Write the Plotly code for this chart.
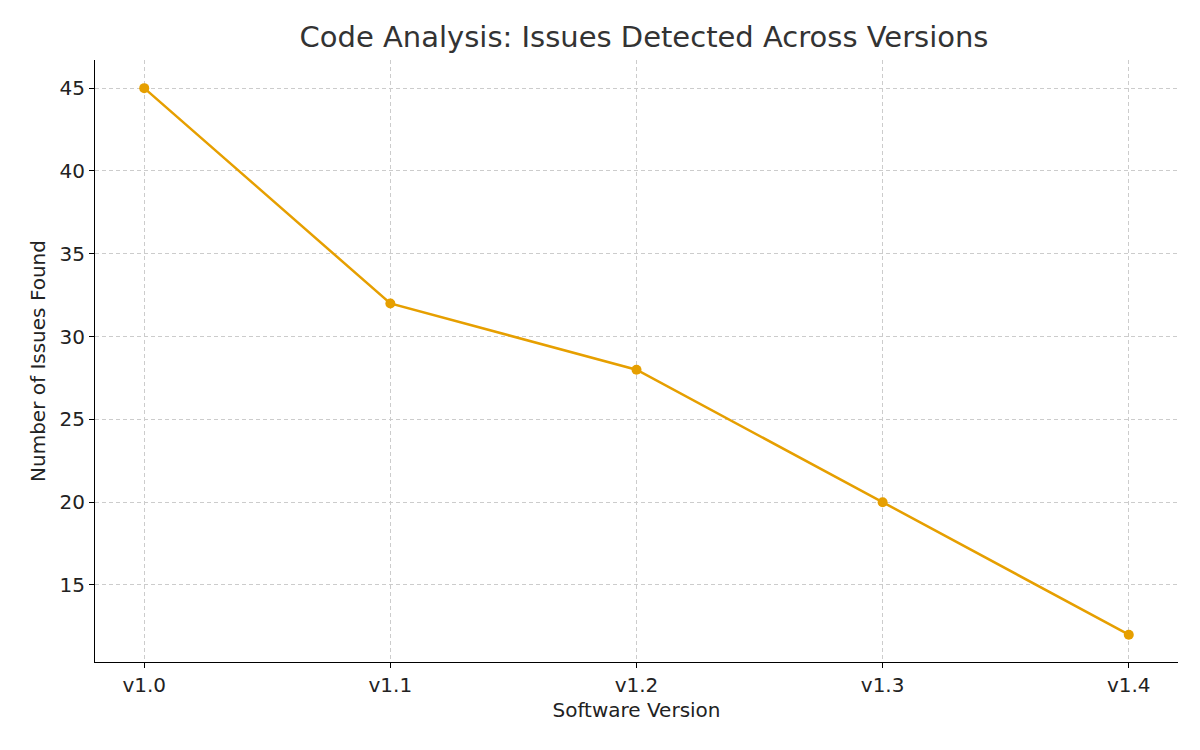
import plotly.graph_objects as go

versions = ["v1.0", "v1.1", "v1.2", "v1.3", "v1.4"]
issues = [45, 32, 28, 20, 12]

fig = go.Figure(go.Scatter(
    x=versions, y=issues, mode="lines+markers",
    line=dict(color="#E69F00", width=2.5),
    marker=dict(color="#E69F00", size=10),
))
fig.update_layout(
    width=1200, height=750,
    paper_bgcolor="white", plot_bgcolor="white",
    font=dict(family="DejaVu Sans", size=20, color="#222"),
    title=dict(text="Code Analysis: Issues Detected Across Versions", x=0.53, xanchor="center",
               y=0.975, yanchor="top", font=dict(size=29, color="#333")),
    margin=dict(l=87, r=30, t=52, b=96),
    showlegend=False,
)
fig.update_xaxes(title=dict(text="Software Version", font=dict(size=20), standoff=6),
                 tickfont=dict(size=20),
                 range=[-0.2, 4.2], showline=True, linecolor="black", linewidth=1.2,
                 ticks="outside", ticklen=5, tickcolor="black",
                 showgrid=True, gridcolor="#cccccc", griddash="4px,3px", gridwidth=1)
fig.update_yaxes(title=dict(text="Number of Issues Found", font=dict(size=20), standoff=8),
                 tickfont=dict(size=20),
                 range=[10.35, 46.7], tickvals=[15, 20, 25, 30, 35, 40, 45],
                 showline=True, linecolor="black", linewidth=1.2,
                 ticks="outside", ticklen=5, tickcolor="black", zeroline=False,
                 showgrid=True, gridcolor="#cccccc", griddash="4px,3px", gridwidth=1)
fig.write_html("out.html")
